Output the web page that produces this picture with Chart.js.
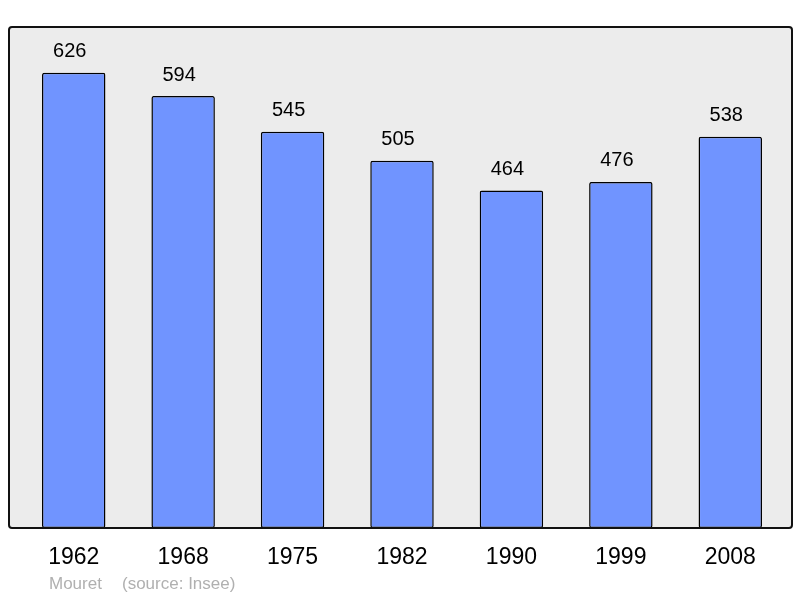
<!DOCTYPE html>
<html>
<head>
<meta charset="utf-8">
<script src="https://cdn.jsdelivr.net/npm/chart.js@4"></script>
<style>
  html, body { margin: 0; padding: 0; background: #fff; }
  #wrap { width: 800px; height: 598px; position: relative; }
</style>
</head>
<body>
<div id="wrap"><canvas id="popChart" width="800" height="598"></canvas></div>
<script>
// Population data
const years = ['1962', '1968', '1975', '1982', '1990', '1999', '2008'];
const population = [626, 594, 545, 505, 464, 476, 538];
const footerName = 'Mouret';
const footerSource = '(source: Insee)';

// grey frame drawn behind the bars
const framePlugin = {
    id: 'frame',
    beforeDraw(chart) {
        const { ctx, chartArea } = chart;
        const x0 = 9, y0 = chartArea.top, x1 = 792, y1 = chartArea.bottom;
        ctx.save();
        ctx.beginPath();
        ctx.roundRect(x0, y0, x1 - x0, y1 - y0, 3);
        ctx.fillStyle = '#ececec';
        ctx.fill();
        ctx.restore();
    },
    afterDraw(chart) {
        const { ctx, chartArea } = chart;
        const x0 = 9, y0 = chartArea.top, x1 = 792, y1 = chartArea.bottom;
        ctx.save();
        ctx.beginPath();
        ctx.roundRect(x0, y0, x1 - x0, y1 - y0, 3);
        ctx.lineWidth = 2;
        ctx.strokeStyle = '#111';
        ctx.stroke();
        // footer
        ctx.fillStyle = '#b0b0b0';
        ctx.font = '17px "Liberation Sans", Arial, sans-serif';
        ctx.textBaseline = 'middle';
        ctx.textAlign = 'left';
        ctx.fillText(footerName, 49, 584);
        ctx.fillText(footerSource, 122, 584);
        ctx.restore();
    }
};

// value labels above bars (sit a little left of the bar centre)
const valueLabels = {
    id: 'valueLabels',
    afterDatasetsDraw(chart) {
        const { ctx } = chart;
        const meta = chart.getDatasetMeta(0);
        ctx.save();
        ctx.fillStyle = '#000';
        ctx.font = '20px "Liberation Sans", Arial, sans-serif';
        ctx.textAlign = 'center';
        ctx.textBaseline = 'middle';
        meta.data.forEach((bar, i) => {
            ctx.fillText(String(population[i]), bar.x - 4, bar.y - 21);
        });
        ctx.restore();
    }
};

new Chart(document.getElementById('popChart'), {
    type: 'bar',
    data: {
        labels: years,
        datasets: [{
            data: population,
            backgroundColor: '#7094ff',
            borderColor: '#000',
            borderWidth: 1.5,
            borderRadius: 2,
            borderSkipped: false,
            barPercentage: 0.58,
            categoryPercentage: 1
        }]
    },
    options: {
        responsive: false,
        animation: false,
        layout: { padding: { left: 19, right: 15, top: 27, bottom: 0 } },
        plugins: {
            legend: { display: false },
            tooltip: { enabled: false }
        },
        scales: {
            x: {
                grid: { display: false },
                border: { display: false },
                ticks: {
                    color: '#000',
                    padding: 8,
                    font: { size: 23, family: '"Liberation Sans", Arial, sans-serif' }
                },
                afterFit(scale) { scale.height = 70; }
            },
            y: {
                display: false,
                min: 0,
                max: 689
            }
        }
    },
    plugins: [framePlugin, valueLabels]
});
</script>
</body>
</html>
